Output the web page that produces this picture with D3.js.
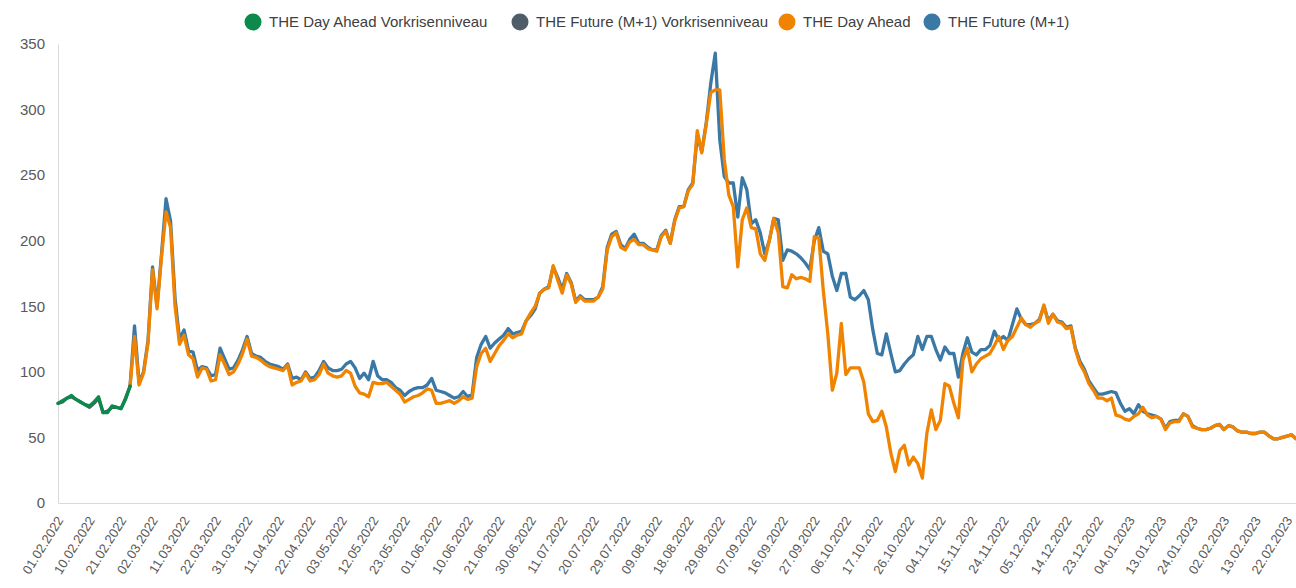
<!DOCTYPE html>
<html>
<head>
<meta charset="utf-8">
<script src="https://cdn.jsdelivr.net/npm/d3@7"></script>
<style>
  body { margin: 0; background: #fff; }
  svg { display: block; font-family: "Liberation Sans", Arial, sans-serif; }
</style>
</head>
<body>
<svg id="chart" width="1296" height="588"></svg>
<script>
// tick labels, one every 7th trading day
var xLabels = ["01.02.2022","10.02.2022","21.02.2022","02.03.2022","11.03.2022","22.03.2022","31.03.2022",
  "11.04.2022","22.04.2022","03.05.2022","12.05.2022","23.05.2022","01.06.2022","10.06.2022","21.06.2022",
  "30.06.2022","11.07.2022","20.07.2022","29.07.2022","09.08.2022","18.08.2022","29.08.2022","07.09.2022",
  "16.09.2022","27.09.2022","06.10.2022","17.10.2022","26.10.2022","04.11.2022","15.11.2022","24.11.2022",
  "05.12.2022","14.12.2022","23.12.2022","04.01.2023","13.01.2023","24.01.2023","02.02.2023","13.02.2023",
  "22.02.2023"];
var labelStep = 7;
var nDays = 276;
var yTicks = [0, 50, 100, 150, 200, 250, 300, 350];

// pre-crisis series, trading days 0..16
var dayAheadPre = [76,78,80,82,79,77,75,74,77,81,69,69,74,73,72,79,89];
var futurePre   = [76,77,80,81,79,77,75,73,76,80,69,70,73,73,72,80,89];

// main series, trading days 16..275
var mainStart = 16;
var dayAhead = [
  89,127,90,99,122,178,148,188,222,210,150,121,128,113,110,96,103,102,93,94,      // 16-35
  113,106,98,100,106,114,125,112,111,109,106,104,103,102,101,105,90,92,93,99,     // 36-55
  93,94,98,106,99,97,96,97,101,99,89,84,83,81,92,91,91,92,89,86,                  // 56-75
  83,77,79,81,82,84,87,86,76,76,77,78,76,78,81,79,80,104,114,118,                 // 76-95
  108,114,120,124,129,126,128,129,139,145,150,160,163,164,181,170,160,174,167,153, // 96-115
  157,154,154,154,157,163,193,203,206,195,193,199,201,197,197,194,193,192,203,207, // 116-135
  198,215,225,226,238,243,284,267,289,313,315,315,262,235,226,180,216,225,210,209, // 136-155
  190,185,200,217,206,165,164,174,171,172,171,169,203,202,162,129,86,99,137,98,   // 156-175
  103,103,103,92,68,62,63,70,58,38,24,40,44,29,35,30,19,53,71,56,                 // 176-195
  63,91,89,76,65,109,118,100,106,110,112,114,120,127,117,124,127,134,141,136,     // 196-215
  134,137,139,151,137,144,138,137,133,134,117,106,100,91,86,80,80,78,80,67,       // 216-235
  66,64,63,66,68,73,67,65,66,64,56,61,62,62,68,66,58,57,56,56,                    // 236-255
  57,59,60,56,59,58,55,54,54,53,53,54,54,51,49,49,50,51,52,49                     // 256-275
];
var future = [
  89,135,92,100,124,180,150,190,232,215,156,125,132,116,115,101,104,103,97,98,    // 16-35
  118,110,102,103,109,117,127,114,112,111,108,106,105,104,102,106,95,96,94,100,   // 36-55
  95,96,101,108,103,101,101,102,106,108,103,95,99,94,108,97,94,94,92,88,          // 56-75
  86,82,85,87,88,88,90,95,86,85,84,82,80,81,85,81,83,111,121,127,                 // 76-95
  118,122,125,128,133,129,130,131,139,143,148,160,163,165,180,172,163,175,168,154, // 96-115
  158,155,155,155,157,165,195,205,207,197,194,201,205,198,198,195,193,193,204,208, // 116-135
  198,216,226,226,239,244,280,268,290,320,343,277,249,244,244,218,248,239,213,216, // 136-155
  206,190,200,217,216,185,193,192,190,187,183,178,200,210,192,190,173,162,175,175, // 156-175
  157,155,158,162,155,132,114,113,129,114,100,101,106,110,113,127,117,127,127,117, // 176-195
  109,119,114,114,96,114,126,115,113,117,117,120,131,124,127,124,136,148,140,136, // 196-215
  136,137,140,150,139,144,139,138,134,135,118,108,102,93,88,83,83,84,85,84,       // 216-235
  76,70,72,68,75,70,68,67,66,64,57,62,63,63,68,66,59,57,56,56,                    // 236-255
  57,59,60,56,59,58,55,54,54,53,53,54,54,51,49,49,50,51,52,49                     // 256-275
];

var colors = {
  dayAheadPre: "#0b8a4b",
  futurePre: "#4e5d67",
  dayAhead: "#f08300",
  future: "#3a78a6"
};

var legendItems = [
  {name: "THE Day Ahead Vorkrisenniveau", color: colors.dayAheadPre, x: 253},
  {name: "THE Future (M+1) Vorkrisenniveau", color: colors.futurePre, x: 520},
  {name: "THE Day Ahead", color: colors.dayAhead, x: 787},
  {name: "THE Future (M+1)", color: colors.future, x: 932}
];

var margin = {t:44, r:0, b:85, l:58};
var width = 1296, height = 588;
var svg = d3.select("#chart");

var x = d3.scaleLinear().domain([0, nDays - 1]).range([margin.l, width - margin.r]);
var y = d3.scaleLinear().domain([0, 350]).range([height - margin.b, margin.t]);

// axes
var yAxis = svg.append("g")
  .attr("transform", "translate(" + margin.l + ",0)")
  .call(d3.axisLeft(y).tickValues(yTicks).tickSize(0).tickPadding(13));
yAxis.select(".domain").attr("stroke", "#d9d9d9");
yAxis.selectAll("text").attr("fill", "#595959").style("font-size", "15px");

var xAxis = svg.append("g")
  .attr("transform", "translate(0," + y(0) + ")")
  .call(d3.axisBottom(x)
    .tickValues(xLabels.map(function(d, i){ return i * labelStep; }))
    .tickFormat(function(d){ return xLabels[d / labelStep]; })
    .tickSize(0));
xAxis.select(".domain").attr("stroke", "#d9d9d9");
xAxis.selectAll("text")
  .attr("fill", "#595959")
  .style("font-size", "13px")
  .attr("text-anchor", "end")
  .attr("dy", "0.35em")
  .attr("transform", "translate(-1,13) rotate(-58)");

function series(values, start) {
  return values.map(function(v, i){ return {i: start + i, v: v}; });
}

var line = d3.line()
  .x(function(d){ return x(d.i); })
  .y(function(d){ return y(d.v); });

var layers = [
  {data: series(future, mainStart), color: colors.future},
  {data: series(dayAhead, mainStart), color: colors.dayAhead},
  {data: series(futurePre, 0), color: colors.futurePre},
  {data: series(dayAheadPre, 0), color: colors.dayAheadPre}
];

svg.append("g").selectAll("path")
  .data(layers)
  .enter().append("path")
  .attr("d", function(d){ return line(d.data); })
  .attr("fill", "none")
  .attr("stroke", function(d){ return d.color; })
  .attr("stroke-width", 3.3)
  .attr("stroke-linejoin", "round")
  .attr("stroke-linecap", "round");

// legend
var legend = svg.append("g").selectAll("g")
  .data(legendItems)
  .enter().append("g")
  .attr("transform", function(d){ return "translate(" + d.x + ",22)"; });
legend.append("circle").attr("r", 8.5).attr("fill", function(d){ return d.color; });
legend.append("text")
  .attr("x", 16)
  .attr("dy", "0.35em")
  .attr("fill", "#404040")
  .style("font-size", "15px")
  .text(function(d){ return d.name; });
</script>
</body>
</html>
